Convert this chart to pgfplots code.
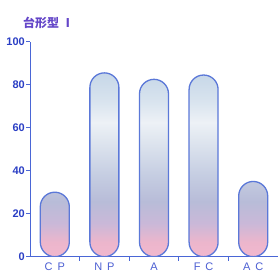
\documentclass[border=0pt]{standalone}
\usepackage{fontspec}
\setmainfont{Liberation Sans}
\newfontfamily\cjk{Noto Sans CJK JP}
\usepackage{pgfplots}
\pgfplotsset{compat=1.18}
\definecolor{axisblue}{HTML}{4A66D6}
\definecolor{tickblue}{HTML}{2A3EC4}
\definecolor{catblue}{HTML}{4B5ED2}
\definecolor{titlec}{HTML}{6446C8}
\definecolor{barline}{HTML}{5B78D8}
\definecolor{c0}{HTML}{F2B8CE}
\definecolor{c1}{HTML}{ECB6CC}
\definecolor{c2}{HTML}{CAB8D8}
\definecolor{c3}{HTML}{B8BCD8}
\definecolor{c4}{HTML}{C6CEE2}
\definecolor{c5}{HTML}{DDE4EE}
\definecolor{c6}{HTML}{EDF1F6}
\definecolor{c7}{HTML}{D8E3EE}
\definecolor{c8}{HTML}{C6D7E8}
% bbox maps to 25bp..75bp
\pgfdeclareverticalshading{pill}{100bp}{color(0bp)=(c0); color(25bp)=(c0); color(29bp)=(c1); color(34bp)=(c2); color(40bp)=(c3); color(47.5bp)=(c4); color(56bp)=(c5); color(61.5bp)=(c6); color(67.5bp)=(c7); color(75bp)=(c8); color(100bp)=(c8)}
\begin{document}
\begin{tikzpicture}
\begin{axis}[
  scale only axis, width=248pt, height=215pt,
  xmin=-0.5, xmax=4.5, ymin=0, ymax=100,
  axis lines=left, axis line style={draw=axisblue, line width=1pt, -},
  ytick={0,20,40,60,80,100},
  yticklabels={0,20,40,60,80,100},
  ytick align=outside,
  major tick length=4pt, minor tick length=4pt,
  y tick style={draw=axisblue, line width=0.9pt},
  yticklabel style={font=\bfseries\fontsize{11}{12}\selectfont, text=tickblue, inner sep=1pt},
  xtick={0,1,2,3,4},
  xticklabels={C\hspace{5pt}P, N\hspace{5pt}P, A, F\hspace{5pt}C, A\hspace{5pt}C},
  xticklabel style={font=\fontsize{11}{12}\selectfont, text=catblue, inner sep=2pt},
  major x tick style={draw=none},
  minor xtick={0.5,1.5,2.5,3.5},
  xtick align=inside,
  minor x tick style={draw=axisblue, line width=0.8pt},
  ybar, bar width=29pt, bar shift=0pt,
]
\addplot[draw=barline, line width=1.3pt, shading=pill, rounded corners=14.5pt]
  coordinates {(0,30) (1,85.5) (2,82.5) (3,84.5) (4,35)};
\end{axis}
\node[anchor=west, text=titlec, font=\cjk\bfseries\fontsize{12}{14}\selectfont, inner sep=0pt] at ([xshift=-7pt, yshift=19pt]current axis.north west) {台形型 Ⅰ};
\pgfresetboundingbox
\path ([xshift=-30pt, yshift=-18pt]current axis.south west) rectangle ([xshift=248pt, yshift=41.7pt]current axis.north west);
\end{tikzpicture}
\end{document}
